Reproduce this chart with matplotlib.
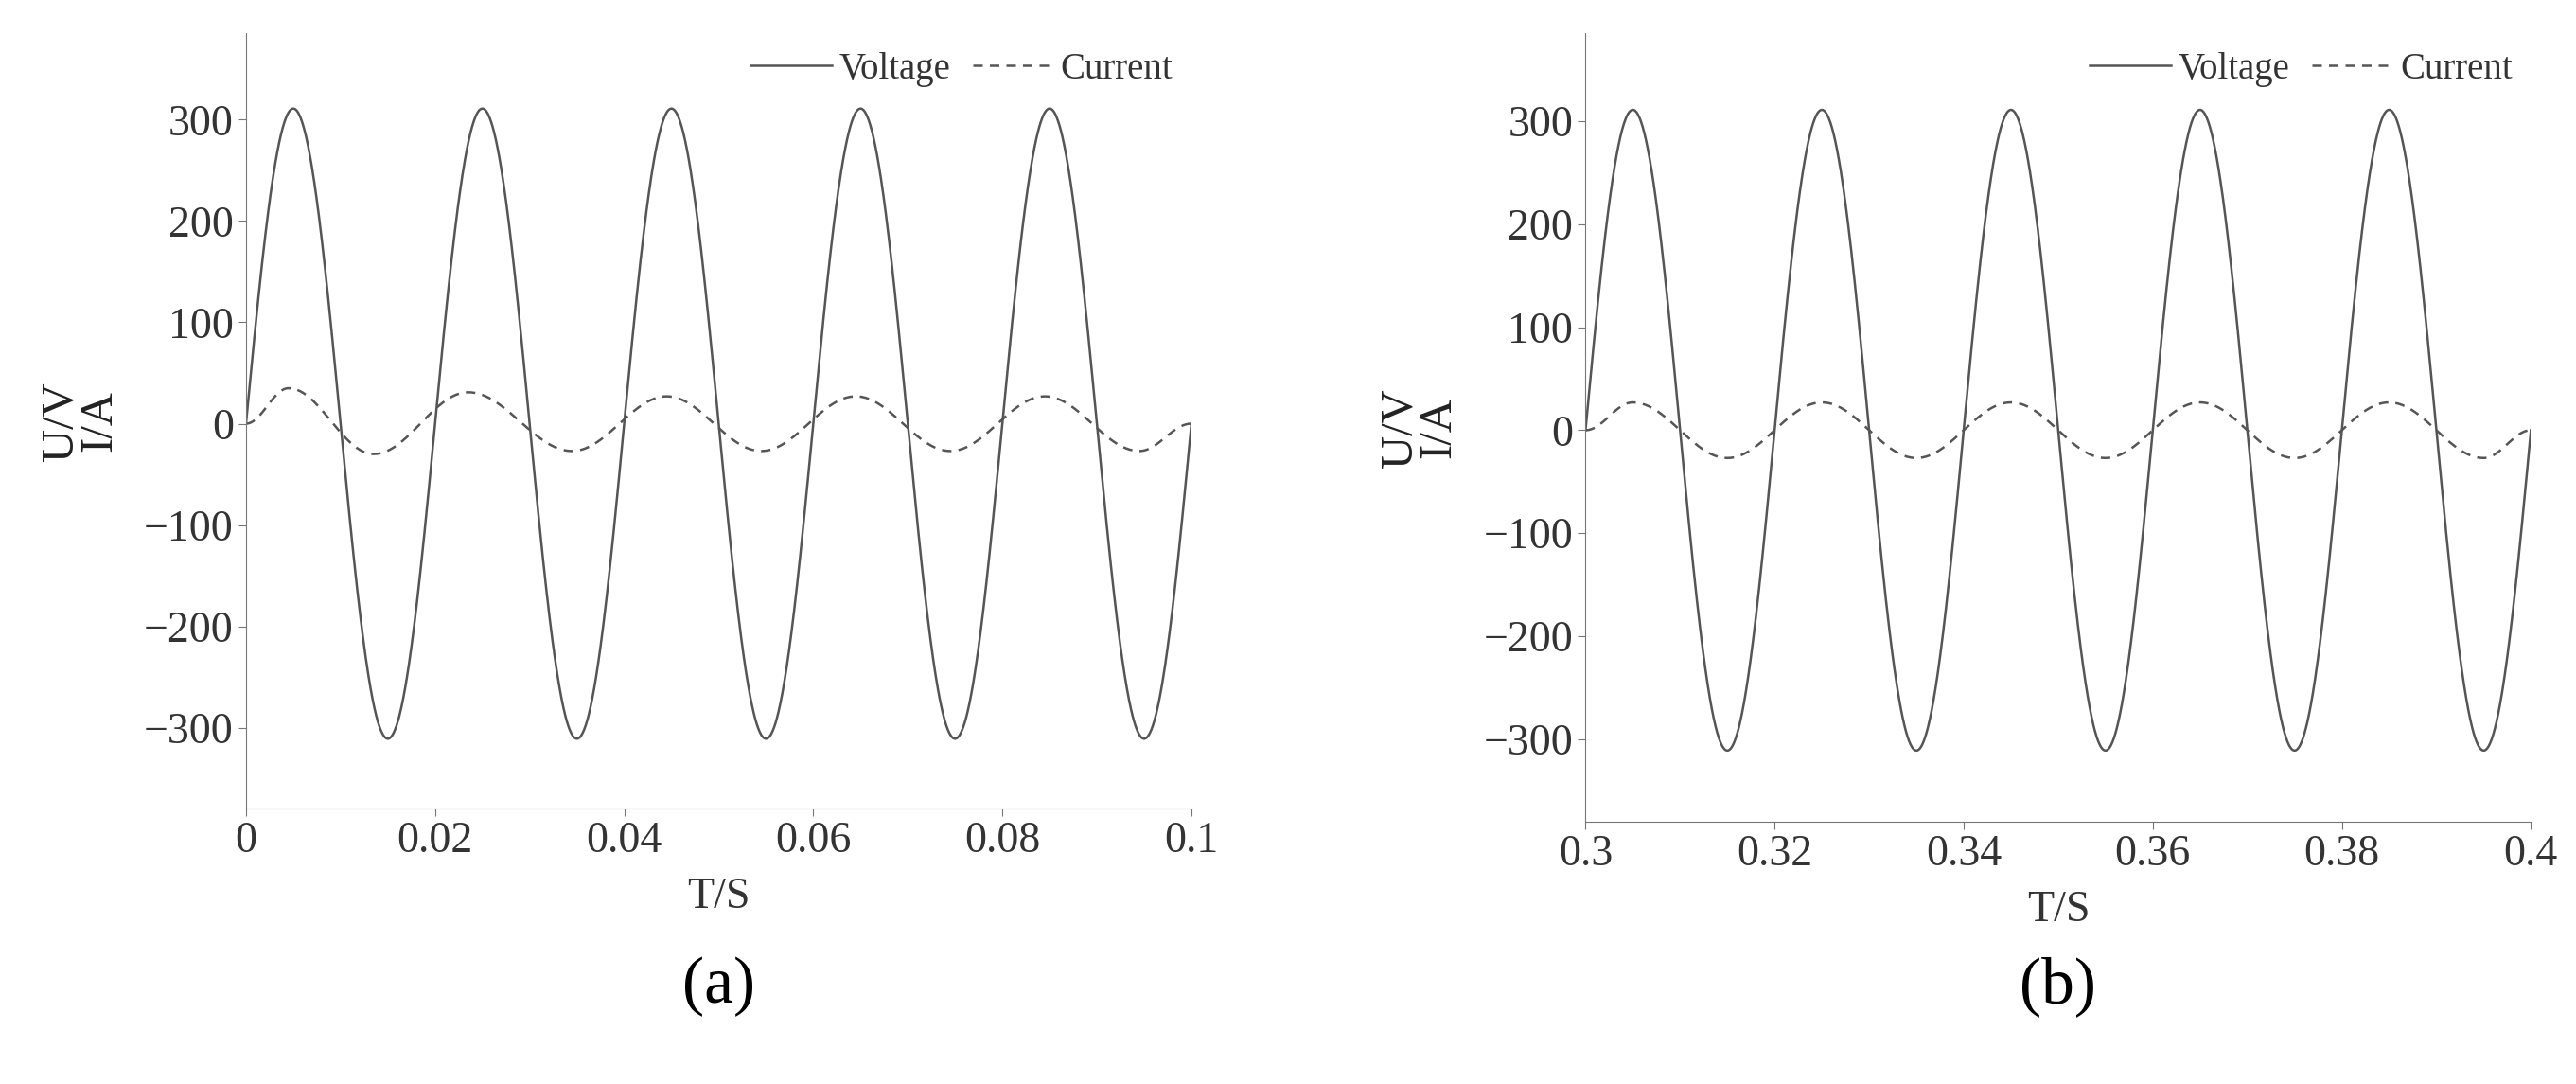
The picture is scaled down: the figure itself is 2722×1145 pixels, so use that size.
import numpy as np
import matplotlib.pyplot as plt

plt.rcParams['font.family'] = ['Liberation Serif', 'DejaVu Serif']

# grid-frequency voltage (50 Hz, 311 V peak)
v_peak = 311
freq = 50

# current extremes: (time, value)
cur_a_t = [0.0, 0.0045, 0.0135, 0.0235, 0.0345, 0.0445, 0.0545, 0.0645, 0.0745, 0.0845, 0.0945, 0.1]
cur_a_v = [0, 35, -30, 31, -27, 27, -27, 27, -27, 27, -27, 0]
cur_b_t = [0.3, 0.305, 0.315, 0.325, 0.335, 0.345, 0.355, 0.365, 0.375, 0.385, 0.395, 0.4]
cur_b_v = [0, 27, -27, 27, -27, 27, -27, 27, -27, 27, -27, 0]

xticks_a = [0, 0.02, 0.04, 0.06, 0.08, 0.1]
xtick_labels_a = ['0', '0.02', '0.04', '0.06', '0.08', '0.1']
xticks_b = [0.3, 0.32, 0.34, 0.36, 0.38, 0.4]
xtick_labels_b = ['0.3', '0.32', '0.34', '0.36', '0.38', '0.4']
yticks = [-300, -200, -100, 0, 100, 200, 300]
ytick_labels = ['\u2212300', '\u2212200', '\u2212100', '0', '100', '200', '300']


def half_cos_path(ts, vs, n=60):
    # smooth cosine-shaped segments between consecutive extremes
    xs, ys = [], []
    for i in range(len(ts) - 1):
        s = np.linspace(0, 1, n)
        w = (1 - np.cos(np.pi * s)) / 2
        xs.append(ts[i] + (ts[i + 1] - ts[i]) * s)
        ys.append(vs[i] + (vs[i + 1] - vs[i]) * w)
    return np.concatenate(xs), np.concatenate(ys)


fig = plt.figure(figsize=(27.22, 11.45), dpi=100)
panels = [
    ([0.0955, 0.254, 0.367, 0.715], (0.0, 0.1), cur_a_t, cur_a_v, xticks_a, xtick_labels_a, '(a)'),
    ([0.6155, 0.242, 0.367, 0.727], (0.3, 0.4), cur_b_t, cur_b_v, xticks_b, xtick_labels_b, '(b)'),
]
for rect, xl, ct, cv, xt, xtl, tag in panels:
    ax = fig.add_axes(rect)
    t = np.linspace(xl[0], xl[1], 2000)
    ax.plot(t, v_peak * np.sin(2 * np.pi * freq * t), color='#555555', lw=1.8, label='Voltage')
    cx, cy = half_cos_path(ct, cv)
    ax.plot(cx, cy, color='#555555', lw=1.8, ls=(0, (4, 3)), label='Current')
    ax.set_xlim(xl)
    ax.set_ylim(-380, 385)
    ax.set_xticks(xt)
    ax.set_xticklabels(xtl)
    ax.set_yticks(yticks)
    ax.set_yticklabels(ytick_labels)
    ax.spines['top'].set_visible(False)
    ax.spines['right'].set_visible(False)
    ax.spines['left'].set_color('#777777')
    ax.spines['bottom'].set_color('#777777')
    ax.tick_params(labelsize=33, colors='#333333', length=6, direction='out', color='#777777')
    ax.set_xlabel('T/S', fontsize=33, color='#333333', labelpad=12)
    ax.set_ylabel('U/V\nI/A', fontsize=35, color='#222222', labelpad=18, linespacing=0.9)
    ax.legend(loc='upper right', ncol=2, frameon=False, fontsize=28, handlelength=2.2,
              handletextpad=0.2, columnspacing=0.6, borderaxespad=0.1, labelcolor='#333333')
    y_tag = ((1 - 1042 / 1145) - rect[1]) / rect[3]
    ax.text(0.5, y_tag, tag, transform=ax.transAxes, ha='center', va='center', fontsize=50)

fig.savefig('out.png', dpi=100)
